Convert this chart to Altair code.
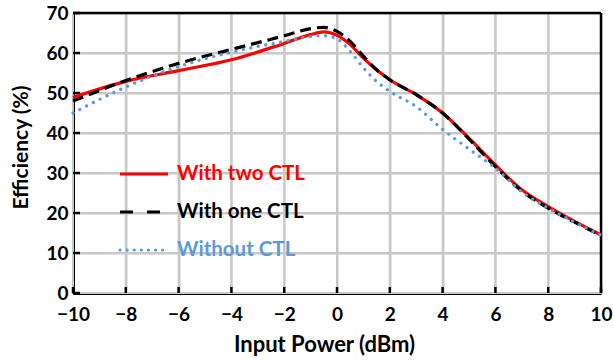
import altair as alt
import pandas as pd

# ---- data ----
x_vals = [-10, -8, -6, -4, -2, -1, -0.5, 0, 0.5, 1, 1.5, 2, 3, 4, 5, 6, 7, 8, 9, 10]
two_ctl = [48.9, 52.9, 55.6, 58.3, 62.4, 64.6, 65.3, 64.4, 62.1, 58.7, 55.8, 53.3, 49.6, 45.0, 38.7, 32.0, 25.8, 21.6, 17.9, 14.5]
one_ctl = [48.0, 53.1, 57.4, 60.9, 64.3, 66.1, 66.4, 65.4, 62.9, 59.2, 55.8, 53.3, 49.6, 45.0, 38.5, 31.6, 25.5, 21.2, 17.7, 14.4]
no_ctl = [45.0, 51.5, 56.6, 60.2, 62.9, 64.1, 64.3, 63.5, 60.4, 56.3, 52.9, 50.4, 46.6, 40.9, 36.0, 31.2, 25.3, 21.2, 17.7, 14.4]
series_names = ["With two CTL", "With one CTL", "Without CTL"]
series_colors = ["#ff0000", "#000000", "#5b9bd5"]
x_ticks = list(range(-10, 11, 2))
y_ticks = list(range(0, 71, 10))
x_range = [-10, 10]
y_range = [0, 70]

W, H = 528, 280
FONT = "Lato"

df = pd.DataFrame({
    "x": x_vals * 3,
    "y": two_ctl + one_ctl + no_ctl,
    "series": [series_names[0]] * len(x_vals) + [series_names[1]] * len(x_vals) + [series_names[2]] * len(x_vals),
})
xt = pd.DataFrame({"x": x_ticks})
yt = pd.DataFrame({"y": y_ticks})
x_end = pd.DataFrame({"x": [x_range[1]]})
y_end = pd.DataFrame({"y": [y_range[1]]})

xscale = alt.Scale(domain=x_range, nice=False, zero=False)
yscale = alt.Scale(domain=y_range, nice=False, zero=False)

main_x_axis = alt.Axis(values=x_ticks, title="Input Power (dBm)", ticks=False,
                       grid=True, gridColor="#c8c8c8", gridWidth=2,
                       labelFont=FONT, labelFontSize=19, labelFontWeight="bold", labelColor="black",
                       labelPadding=12, labelFlush=False, labelOverlap=False,
                       titleFont=FONT, titleFontSize=22, titleFontWeight="bold",
                       titleColor="black", titlePadding=10, titleX=251,
                       domainColor="black", domainWidth=3)
main_y_axis = alt.Axis(values=y_ticks, title="Efficiency (%)", ticks=False,
                       grid=True, gridColor="#c8c8c8", gridWidth=2,
                       labelFont=FONT, labelFontSize=19, labelFontWeight="bold", labelColor="black",
                       labelPadding=5, labelFlush=False, labelOverlap=False,
                       titleFont=FONT, titleFontSize=21, titleFontWeight="bold",
                       titleColor="black", titlePadding=14, titleY=134,
                       domainColor="black", domainWidth=3)

X = alt.X("x:Q", scale=xscale, axis=main_x_axis)
Y = alt.Y("y:Q", scale=yscale, axis=main_y_axis)

GRID = "#c8c8c8"
vgrid = alt.Chart(xt).mark_rule(color=GRID, strokeWidth=2).encode(x=X)
hgrid = alt.Chart(yt).mark_rule(color=GRID, strokeWidth=2).encode(y=Y)

# frame (top and right)
top_edge = alt.Chart(y_end).mark_rule(color="#000000", strokeWidth=2.5).encode(y=Y)
right_edge = alt.Chart(x_end).mark_rule(color="#000000", strokeWidth=2.5).encode(x=X)

# inside tick marks
xtick_marks = alt.Chart(xt).mark_rule(color="#000000", strokeWidth=2.5).encode(
    x=X, y=alt.value(H), y2=alt.value(H - 6))
ytick_marks = alt.Chart(yt).mark_rule(color="#000000", strokeWidth=2.5).encode(
    y=Y, x=alt.value(0), x2=alt.value(7))

lines = []
styles = [
    dict(strokeWidth=3.2),
    dict(strokeWidth=3.2, strokeDash=[11, 6]),
    dict(strokeWidth=3.2, strokeDash=[0.1, 7.5], strokeCap="round"),
]
for name, col, st in zip(series_names, series_colors, styles):
    lines.append(alt.Chart(df).transform_filter(alt.datum.series == name).mark_line(
        color=col, interpolate="monotone", **st).encode(x=X, y=Y))

# ---- manual legend inside the plot ----
leg_layers = []
dashes = [None, [13, 14], [0.1, 7]]
row_y = [161, 199, 237]
for name, col, dash, ry in zip(series_names, series_colors, dashes, row_y):
    ldf = pd.DataFrame({"label": [name]})
    kw = dict(color=col, strokeWidth=3.2)
    if dash is not None:
        kw["strokeDash"] = dash
    if name == "Without CTL":
        kw["strokeCap"] = "round"
    leg_layers.append(alt.Chart(ldf).mark_rule(**kw).encode(
        x=alt.value(47), x2=alt.value(95), y=alt.value(ry)))
    leg_layers.append(alt.Chart(ldf).mark_text(
        align="left", baseline="middle", font=FONT, fontSize=20.5, fontWeight="bold", color=col
    ).encode(x=alt.value(104), y=alt.value(ry), text="label:N"))

chart = alt.layer(vgrid, hgrid, top_edge, right_edge, xtick_marks, ytick_marks, *lines, *leg_layers).properties(
    width=W, height=H, autosize=alt.AutoSizeParams(type="none"),
    padding={"left": 73, "top": 13, "right": 12, "bottom": 68},
).configure_view(stroke="#000000", strokeWidth=2).configure(background="white")

chart.save("out.html", embed_options={"renderer": "svg", "actions": False})
